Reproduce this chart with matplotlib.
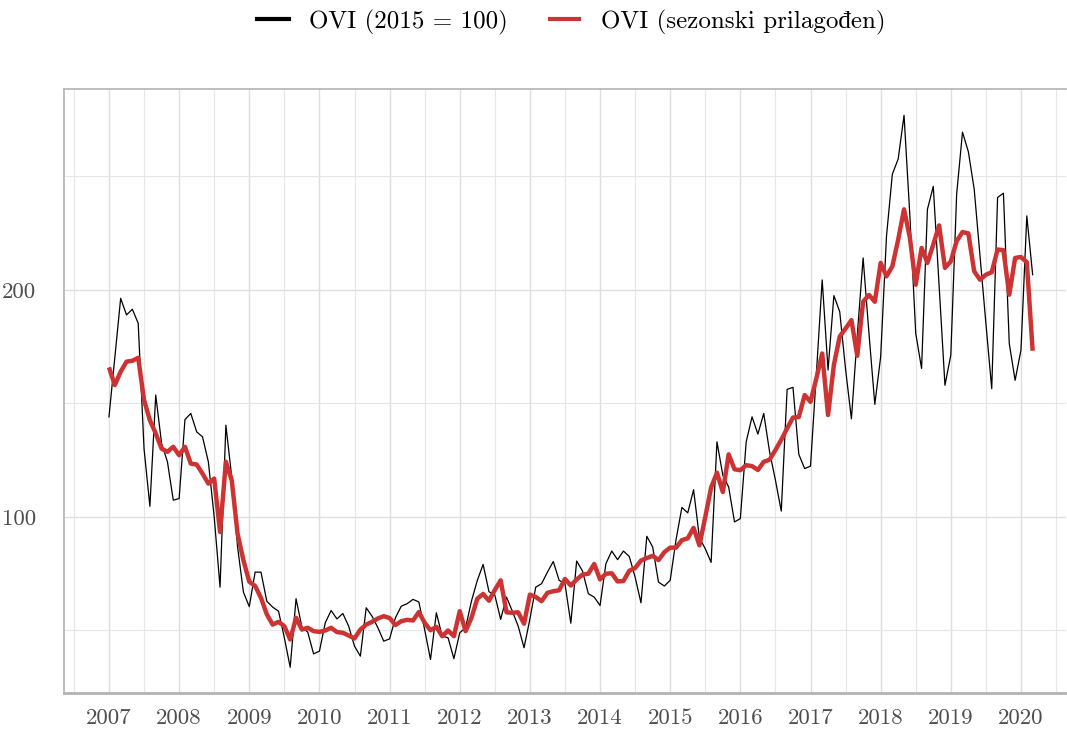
import matplotlib
matplotlib.use("Agg")
import matplotlib.pyplot as plt
import numpy as np
import pandas as pd

# Monthly index values, Jan 2007 - Mar 2020
ovi = [144.1, 170, 196.3, 189, 191.5, 185.3, 130, 104.7, 153.7, 132.4, 124.3, 107.4,
       108.1, 142.9, 145.6, 137.5, 135.3, 124.3, 100, 69.1, 140.4, 117.6, 86.8, 66.9,
       60.5, 75.7, 75.7, 62.9, 60.3, 58.5, 46.8, 33.8, 64, 51.5, 49.3, 39.7,
       40.9, 53.4, 58.8, 55.1, 57.5, 51.9, 43.1, 38.7, 60, 56.3, 51.2, 45.3,
       46.3, 55.6, 60.7, 61.8, 63.7, 62.6, 50.4, 37.2, 57.8, 47.5, 46.8, 37.6,
       49, 51.2, 62.9, 72, 79.1, 67.1, 65.6, 54.9, 64.7, 58.5, 51.9, 42.4,
       55, 69.1, 70.6, 75.7, 80.4, 72.1, 70.6, 53.2, 80.6, 76.2, 66.2, 64.7,
       61, 79.4, 85, 81.2, 85, 82.6, 73.5, 62.2, 91.5, 86.8, 71.3, 69.6,
       72.1, 90, 104.2, 101.8, 112, 90.8, 86, 80, 133.1, 118.4, 113.2, 97.8,
       99.3, 133.1, 144.1, 136.5, 145.6, 128.7, 116.2, 102.6, 156.2, 157.1, 127.6, 121.3,
       122.4, 163, 204.4, 164.7, 197.5, 190.4, 165, 143.2, 180, 214.1, 180.9, 149.6,
       170.5, 223.7, 251, 257.7, 276.9, 232.6, 180.9, 165.4, 235.5, 245.6, 201.6, 158,
       171.3, 242.2, 269.5, 260.9, 244.4, 214.8, 185.3, 156.5, 240.7, 242.6, 176.4, 160.2,
       173.5, 232.6, 206.7]

ovi_sa = [165.9, 158.1, 164, 168.4, 168.8, 170.1, 151.5, 142.6, 136.8, 130.1, 128.7, 130.9,
          127.2, 130.9, 123.5, 123.1, 119.1, 114.7, 116.9, 93.4, 124.3, 116.2, 92.6, 80.9,
          71.5, 69.6, 64.4, 57.1, 52.6, 53.8, 51.9, 46, 55.6, 50.4, 51.2, 49.7,
          49.4, 50, 51.2, 49.3, 49, 47.8, 46.5, 50.4, 52.6, 53.8, 55.3, 56.3,
          55.5, 52.4, 54.1, 54.7, 54.4, 58.1, 53.4, 50.1, 51.6, 47.5, 50, 47.5,
          58.5, 49.7, 55.5, 64, 66.1, 63.1, 67.8, 72.1, 58, 57.8, 58, 53,
          65.8, 64.8, 62.9, 66.6, 67.3, 67.7, 72.7, 69.8, 72.5, 74.6, 75, 79.3,
          72.5, 75, 75.2, 71.6, 71.8, 76.3, 77.5, 80.8, 81.9, 82.9, 81, 84.5,
          86.5, 86.5, 89.8, 90.6, 95.2, 87.5, 100, 113, 119.5, 111, 127.6, 121,
          120.6, 122.8, 122.4, 120.7, 124.3, 125.2, 129.5, 134, 139, 143.8, 144, 153.7,
          150.7, 161, 172, 144.9, 167, 179.5, 183, 186.7, 171, 194.8, 197.8, 194.8,
          211.9, 206, 210.4, 222.2, 235.5, 223, 202.3, 218.5, 211.9, 220, 228.4, 209.7,
          212.6, 221.5, 225.5, 224.9, 208.2, 204.5, 206.7, 207.8, 217.8, 217.5, 197.9, 214.1,
          214.5, 212.2, 173.2]

start_year = 2007
year_ticks = list(range(2007, 2021))
y_major = [100, 200]
y_minor = [50, 150, 250]
labels = ["OVI (2015 = 100)", "OVI (sezonski prilagođen)"]
colors = ["black", "#CD3333"]

t = start_year + np.arange(len(ovi)) / 12.0

plt.rcParams['font.family'] = ['cmr10', 'Liberation Serif', 'DejaVu Serif']
plt.rcParams['axes.formatter.use_mathtext'] = True
plt.rcParams['mathtext.fontset'] = 'cm'

fig = plt.figure(figsize=(10.67, 7.29), dpi=100)
ax = fig.add_axes([64/1067, 1-693/729, (1066-64)/1067, (693-89)/729])

ax.plot(t, ovi, color=colors[0], lw=0.9, label=labels[0], zorder=3)
ax.plot(t, ovi_sa, color=colors[1], lw=3.2, label=labels[1], zorder=4,
        solid_joinstyle='round', solid_capstyle='butt')

ax.set_xlim(2006.359, 2020.642)
ax.set_ylim(22.47, 288.5)

ax.set_xticks(year_ticks)
ax.set_xticklabels([str(y) for y in year_ticks])
ax.set_xticks([y + 0.5 for y in range(2006, 2021)], minor=True)
ax.set_yticks(y_major)
ax.set_yticklabels([str(v) for v in y_major])
ax.set_yticks(y_minor, minor=True)

ax.grid(True, which='major', color='#DEDEDE', lw=1.0, zorder=0)
ax.grid(True, which='minor', color='#E6E6E6', lw=0.8, zorder=0)
ax.set_axisbelow(True)

ax.tick_params(axis='both', which='both', length=0, labelsize=16.5, colors='#4D4D4D')
ax.tick_params(axis='x', which='major', pad=11)
ax.tick_params(axis='y', which='major', pad=20)
for lbl in ax.get_xticklabels() + ax.get_yticklabels():
    lbl.set_color('#4D4D4D')

for side in ['top', 'left']:
    ax.spines[side].set_color('#B3B3B3')
    ax.spines[side].set_linewidth(1.2)
ax.spines['right'].set_visible(False)
ax.spines['bottom'].set_color('#B3B3B3')
ax.spines['bottom'].set_linewidth(2.0)

leg = fig.legend(loc='center', bbox_to_anchor=(571/1067, 1-22/729), ncol=2,
                 frameon=False, fontsize=18, handlelength=1.3, handletextpad=0.8,
                 columnspacing=1.6)
for h in leg.get_lines():
    h.set_linewidth(3.0)

fig.savefig("out.png", dpi=100)
